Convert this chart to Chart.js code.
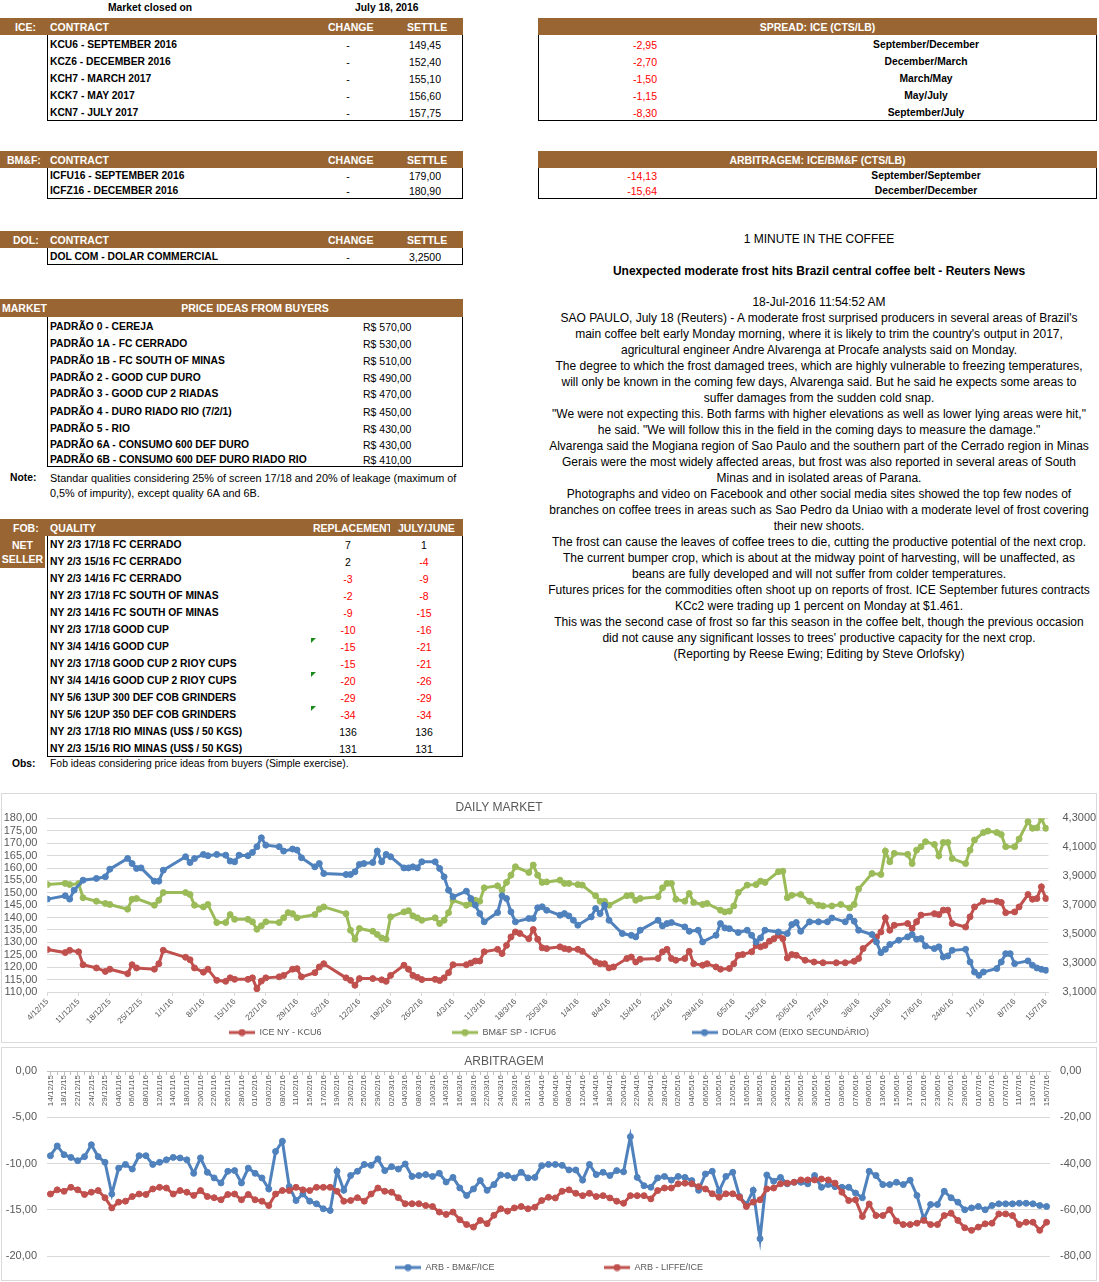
<!DOCTYPE html>
<html>
<head>
<meta charset="utf-8">
<title>Market closed on July 18, 2016</title>
<script src="https://cdn.jsdelivr.net/npm/chart.js@4.4.1/dist/chart.umd.min.js"></script>
<style>
html, body { margin: 0; padding: 0; background: #fff; overflow: hidden; }
#page { position: relative; width: 1099px; height: 1282px; font-family: "Liberation Sans", Arial, sans-serif; color: #000; }
.t { position: absolute; white-space: nowrap; line-height: 16px; font-size: 10.3px; font-weight: bold; }
.n { font-weight: normal; font-size: 10.5px; }
.h { color: #fff; font-size: 10.5px; }
.r { color: #f00; }
.bar { position: absolute; background: #996633; }
.box { position: absolute; border: 1px solid #000; border-top: 0; box-sizing: border-box; }
.tri { position: absolute; border-top: 5px solid #1a8a1a; border-right: 5px solid transparent; }
.frame { position: absolute; border: 1px solid #d9d9d9; box-sizing: border-box; }
#news { position: absolute; left: 539px; width: 560px; top: 231px; text-align: center; font-size: 12px; line-height: 16px; }
.chart { position: absolute; left: 0; }
</style>
</head>
<body>
<div id="page">
  <div class="frame" style="left:1px;top:793px;width:1096px;height:250px"></div>
  <div class="frame" style="left:1px;top:1047px;width:1096px;height:234px"></div>
  <div id="news">
    <div>1 MINUTE IN THE COFFEE</div>
    <div style="margin-top:16px;font-weight:bold">Unexpected moderate frost hits Brazil central coffee belt - Reuters News</div>
    <div style="margin-top:15px">18-Jul-2016 11:54:52 AM</div>
    <div>SAO PAULO, July 18 (Reuters) - A moderate frost surprised producers in several areas of Brazil's<br>
main coffee belt early Monday morning, where it is likely to trim the country's output in 2017,<br>
agricultural engineer Andre Alvarenga at Procafe analysts said on Monday.<br>
The degree to which the frost damaged trees, which are highly vulnerable to freezing temperatures,<br>
will only be known in the coming few days, Alvarenga said. But he said he expects some areas to<br>
suffer damages from the sudden cold snap.<br>
"We were not expecting this. Both farms with higher elevations as well as lower lying areas were hit,"<br>
he said. "We will follow this in the field in the coming days to measure the damage."<br>
Alvarenga said the Mogiana region of Sao Paulo and the southern part of the Cerrado region in Minas<br>
Gerais were the most widely affected areas, but frost was also reported in several areas of South<br>
Minas and in isolated areas of Parana.<br>
Photographs and video on Facebook and other social media sites showed the top few nodes of<br>
branches on coffee trees in areas such as Sao Pedro da Uniao with a moderate level of frost covering<br>
their new shoots.<br>
The frost can cause the leaves of coffee trees to die, cutting the productive potential of the next crop.<br>
The current bumper crop, which is about at the midway point of harvesting, will be unaffected, as<br>
beans are fully developed and will not suffer from colder temperatures.<br>
Futures prices for the commodities often shoot up on reports of frost. ICE September futures contracts<br>
KCc2 were trading up 1 percent on Monday at $1.461.<br>
This was the second case of frost so far this season in the coffee belt, though the previous occasion<br>
did not cause any significant losses to trees' productive capacity for the next crop.<br>
(Reporting by Reese Ewing; Editing by Steve Orlofsky)</div>
  </div>
  <div class="chart" style="top:794px"><canvas id="daily" width="1098" height="253"></canvas></div>
  <div class="chart" style="top:1048px"><canvas id="arb" width="1098" height="234"></canvas></div>
</div>

<script>
"use strict";

// Daily market: [days after 4/12/15, value]
const iceNy = [[0,127.1],[4,125.9],[5,126.8],[7,126.2],[8,121.0],[11,119.7],[13,118.3],[14,119.2],[18,117.4],[19,121.0],[20,119.7],[24,119.2],[25,121.4],[26,126.8],[31,124.0],[32,123.0],[33,119.7],[35,118.0],[36,119.2],[38,114.7],[40,114.3],[41,115.7],[42,115.1],[45,115.1],[46,115.7],[47,111.3],[48,114.4],[49,115.7],[52,116.1],[53,116.7],[55,119.2],[56,119.4],[57,116.1],[60,117.8],[61,120.1],[62,121.4],[67,115.7],[68,114.7],[69,112.7],[70,115.4],[73,115.4],[75,114.9],[76,114.3],[77,116.7],[80,120.8],[81,119.2],[82,116.7],[83,115.9],[84,115.0],[87,115.1],[88,114.6],[89,115.7],[90,117.8],[91,121.0],[94,121.0],[95,121.7],[96,122.5],[97,122.5],[98,126.2],[101,127.2],[102,125.5],[103,128.8],[104,132.2],[105,134.2],[106,133.6],[108,131.5],[109,135.2],[110,131.3],[111,127.8],[112,127.5],[115,128.2],[116,127.5],[117,127.2],[119,127.2],[120,126.4],[123,122.1],[124,121.4],[125,121.4],[126,119.7],[127,120.1],[130,123.5],[131,124.1],[132,122.1],[133,123.2],[137,123.5],[138,126.2],[139,127.2],[140,123.5],[141,122.8],[143,123.5],[144,126.4],[145,121.4],[147,120.8],[148,121.4],[150,120.1],[151,119.2],[153,119.5],[154,121.4],[155,124.8],[156,125.1],[158,126.2],[159,128.8],[160,128.2],[161,128.8],[162,130.5],[163,131.5],[164,132.9],[165,131.5],[166,123.7],[167,125.1],[168,124.8],[170,122.8],[172,122.1],[174,121.8],[177,121.8],[179,121.8],[181,122.4],[182,123.5],[183,127.5],[186,132.2],[187,134.2],[188,139.9],[189,134.9],[190,136.9],[193,137.6],[194,135.6],[195,138.3],[196,141.0],[199,141.6],[200,141.2],[201,143.0],[202,143.0],[203,137.6],[206,136.2],[207,140.3],[208,144.3],[210,146.6],[213,146.6],[214,146.1],[215,142.0],[217,142.3],[218,144.3],[220,149.3],[221,147.4],[222,147.7],[223,152.4],[224,147.7]];

const bmfSp = [[0,153.3],[4,153.8],[5,153.3],[7,153.7],[8,148.0],[11,146.6],[13,145.7],[14,145.3],[18,143.4],[19,147.4],[20,147.7],[24,145.0],[25,147.0],[26,150.1],[31,150.1],[32,149.3],[33,145.0],[35,144.3],[36,145.3],[38,138.0],[40,138.0],[41,141.2],[42,139.3],[45,139.3],[46,138.3],[47,135.3],[48,136.7],[49,138.3],[52,138.0],[53,139.9],[54,142.0],[55,141.6],[56,139.9],[60,141.2],[61,143.4],[62,144.3],[67,141.6],[68,134.9],[69,131.3],[70,135.6],[73,134.5],[74,133.2],[75,131.8],[76,131.3],[77,140.3],[80,142.3],[81,142.8],[82,140.7],[83,139.9],[84,138.9],[87,139.9],[88,137.6],[89,138.9],[90,142.0],[91,147.0],[94,145.0],[95,145.7],[96,147.0],[97,146.6],[98,152.0],[101,152.8],[102,151.1],[103,154.2],[104,157.1],[105,160.5],[108,158.2],[109,161.2],[110,157.1],[111,154.2],[112,154.4],[115,155.1],[116,153.8],[117,153.8],[119,153.3],[120,153.1],[123,148.8],[124,146.6],[125,146.6],[126,145.0],[130,148.8],[131,149.0],[132,147.0],[133,147.7],[137,148.4],[138,152.0],[139,153.8],[140,153.8],[141,147.4],[143,146.6],[144,149.7],[145,146.1],[147,145.3],[148,145.7],[151,143.0],[152,142.3],[153,142.6],[154,144.7],[155,150.1],[157,153.1],[159,153.3],[160,154.7],[161,154.2],[164,158.5],[165,158.7],[166,148.0],[167,149.0],[169,149.3],[171,146.6],[173,145.0],[174,144.7],[176,144.7],[178,145.3],[180,143.9],[181,145.3],[182,151.5],[185,157.8],[187,157.4],[188,166.8],[189,162.5],[190,165.9],[193,165.5],[194,161.8],[195,167.2],[196,168.6],[197,170.6],[199,169.5],[200,164.9],[201,170.3],[202,170.3],[203,163.8],[206,161.8],[207,167.2],[208,171.3],[210,174.3],[211,174.9],[213,174.3],[214,173.5],[215,168.6],[217,168.6],[218,171.7],[220,178.7],[221,176.0],[222,176.2],[223,180.0],[224,176.0]];

const dolarCom = [[0,3.742],[4,3.765],[5,3.742],[6,3.804],[8,3.873],[11,3.885],[13,3.896],[14,3.949],[18,4.023],[19,3.988],[20,3.954],[21,3.958],[24,3.866],[25,3.866],[26,3.942],[31,4.035],[32,3.995],[33,4.023],[35,4.051],[36,4.042],[38,4.051],[40,4.046],[41,4.005],[42,4.000],[43,4.046],[45,4.042],[46,4.065],[47,4.104],[48,4.166],[49,4.115],[52,4.104],[53,4.074],[55,4.088],[56,4.081],[57,4.028],[60,3.965],[61,3.988],[62,3.919],[67,3.912],[68,3.912],[69,3.931],[70,3.982],[71,3.988],[73,3.995],[74,4.074],[75,4.000],[76,4.051],[77,4.035],[80,3.958],[81,3.958],[82,3.965],[83,3.958],[84,4.000],[87,4.000],[88,3.954],[89,3.896],[90,3.804],[91,3.758],[94,3.797],[95,3.746],[96,3.700],[97,3.642],[98,3.585],[101,3.649],[102,3.765],[103,3.746],[104,3.654],[105,3.585],[108,3.608],[109,3.608],[110,3.682],[111,3.689],[112,3.665],[115,3.631],[116,3.642],[117,3.626],[118,3.596],[119,3.562],[122,3.619],[123,3.677],[124,3.642],[125,3.700],[126,3.596],[129,3.504],[131,3.492],[132,3.481],[133,3.527],[137,3.596],[138,3.557],[139,3.573],[140,3.580],[143,3.550],[144,3.520],[146,3.527],[147,3.446],[150,3.492],[151,3.573],[152,3.543],[153,3.538],[155,3.511],[157,3.527],[158,3.492],[159,3.446],[160,3.474],[161,3.527],[164,3.515],[166,3.504],[167,3.566],[168,3.580],[169,3.520],[171,3.585],[173,3.585],[175,3.585],[176,3.612],[179,3.585],[180,3.619],[181,3.589],[182,3.527],[185,3.497],[186,3.446],[187,3.372],[188,3.395],[189,3.428],[191,3.458],[193,3.481],[194,3.497],[195,3.465],[196,3.469],[197,3.418],[199,3.400],[200,3.412],[201,3.342],[202,3.349],[203,3.388],[206,3.395],[207,3.308],[208,3.238],[209,3.215],[210,3.238],[213,3.262],[214,3.308],[215,3.365],[216,3.365],[217,3.296],[220,3.315],[221,3.285],[222,3.266],[223,3.257],[224,3.250]];

// Arbitragem: trading days and spreads
const arbDates = ["14/12/15","16/12/15","18/12/15","21/12/15","22/12/15","23/12/15","24/12/15","28/12/15","29/12/15","30/12/15",
  "04/01/16","05/01/16","06/01/16","07/01/16","08/01/16","11/01/16","12/01/16","13/01/16","14/01/16","15/01/16",
  "18/01/16","19/01/16","20/01/16","21/01/16","22/01/16","25/01/16","26/01/16","27/01/16","28/01/16","29/01/16",
  "01/02/16","02/02/16","03/02/16","04/02/16","08/02/16","10/02/16","11/02/16","12/02/16","15/02/16","16/02/16",
  "17/02/16","18/02/16","19/02/16","22/02/16","23/02/16","24/02/16","25/02/16","26/02/16","29/02/16","01/03/16",
  "02/03/16","03/03/16","04/03/16","07/03/16","08/03/16","09/03/16","10/03/16","11/03/16","14/03/16","15/03/16",
  "16/03/16","17/03/16","18/03/16","21/03/16","22/03/16","23/03/16","24/03/16","28/03/16","29/03/16","30/03/16",
  "31/03/16","01/04/16","04/04/16","05/04/16","06/04/16","07/04/16","08/04/16","11/04/16","12/04/16","13/04/16",
  "14/04/16","15/04/16","18/04/16","19/04/16","20/04/16","21/04/16","22/04/16","25/04/16","26/04/16","27/04/16",
  "28/04/16","29/04/16","02/05/16","03/05/16","04/05/16","05/05/16","06/05/16","09/05/16","10/05/16","11/05/16",
  "12/05/16","13/05/16","16/05/16","17/05/16","18/05/16","19/05/16","20/05/16","23/05/16","24/05/16","25/05/16",
  "26/05/16","27/05/16","30/05/16","31/05/16","01/06/16","02/06/16","03/06/16","06/06/16","07/06/16","08/06/16",
  "09/06/16","10/06/16","13/06/16","14/06/16","15/06/16","16/06/16","17/06/16","20/06/16","21/06/16","22/06/16",
  "23/06/16","24/06/16","27/06/16","28/06/16","29/06/16","30/06/16","01/07/16","04/07/16","05/07/16","06/07/16",
  "07/07/16","08/07/16","11/07/16","12/07/16","13/07/16","14/07/16","15/07/16"];

const arbBmfIce = [-9.16,-8.1,-9.05,-9.34,-9.7,-9.26,-7.97,-9.26,-9.87,-13.3,
  -10.5,-10.1,-10.6,-9.16,-9.16,-10.1,-9.87,-9.6,-9.34,-9.4,
  -9.6,-11.06,-9.4,-10.95,-11.56,-12.1,-10.84,-10.77,-12.1,-10.5,
  -11.06,-11.56,-12.75,-8.7,-7.6,-12.5,-14.0,-13.3,-14.07,-14.36,
  -14.9,-15.08,-10.84,-12.9,-11.3,-10.84,-10.1,-10.2,-9.5,-10.77,
  -10.34,-10.6,-10.05,-11.4,-11.3,-11.2,-11.4,-11.06,-12.0,-11.5,
  -12.64,-13.46,-12.75,-11.85,-12.9,-12.28,-11.24,-11.3,-11.56,-10.95,
  -11.56,-11.5,-10.23,-10.1,-10.1,-10.2,-10.7,-10.7,-11.8,-10.1,
  -11.2,-10.95,-11.3,-10.77,-10.9,-7.1,-11.5,-12.4,-12.57,-11.56,
  -11.4,-11.8,-11.4,-11.5,-11.85,-12.9,-11.13,-10.84,-13.0,-11.4,
  -10.95,-13.57,-14.43,-12.9,-18.13,-11.24,-11.92,-11.5,-12.2,-12.03,
  -12.03,-12.2,-11.3,-12.57,-12.28,-12.5,-12.57,-12.57,-13.2,-13.7,
  -10.84,-11.3,-12.28,-12.28,-12.03,-12.28,-11.8,-13.46,-15.98,-14.43,
  -14.43,-13.0,-13.7,-14.18,-15.0,-14.8,-14.65,-15.0,-14.54,-14.36,
  -14.36,-14.36,-14.3,-14.3,-14.36,-14.54,-14.65];

const arbLiffeIce = [-53.2,-51.4,-52.0,-50.3,-51.4,-53.4,-52.4,-51.7,-54.8,-59.2,
  -56.7,-56.3,-54.3,-53.2,-53.4,-51.0,-50.3,-50.6,-53.2,-51.7,
  -52.4,-53.8,-51.7,-54.3,-54.8,-55.7,-53.4,-53.2,-55.7,-53.4,
  -55.7,-56.3,-58.2,-53.2,-51.7,-51.7,-50.3,-51.4,-51.7,-50.3,
  -50.3,-50.3,-52.0,-56.3,-56.0,-54.8,-56.3,-53.2,-50.6,-52.0,
  -52.4,-54.8,-57.4,-57.4,-57.4,-58.2,-58.6,-61.0,-62.0,-61.0,
  -64.3,-66.4,-67.5,-64.6,-66.0,-62.4,-59.6,-60.6,-59.2,-58.6,
  -59.6,-58.9,-56.0,-54.6,-54.9,-52.0,-51.4,-52.9,-53.9,-52.9,
  -54.3,-53.9,-54.9,-56.3,-57.2,-53.9,-53.9,-53.9,-55.3,-51.7,
  -50.6,-50.6,-48.8,-48.5,-48.8,-50.0,-51.0,-53.1,-54.6,-53.1,
  -53.1,-54.6,-58.6,-56.7,-55.7,-51.0,-50.6,-48.8,-48.5,-48.1,
  -47.1,-47.1,-47.1,-46.7,-47.1,-48.5,-52.4,-56.0,-55.7,-62.9,
  -57.5,-62.5,-62.5,-60.0,-64.9,-66.4,-66.4,-65.8,-64.6,-66.4,
  -66.4,-62.5,-61.5,-64.6,-67.8,-68.9,-67.5,-66.1,-65.8,-61.8,
  -61.8,-62.5,-66.4,-65.4,-65.4,-68.9,-65.4];

const RED = "#C0504D";
const GREEN = "#9BBB59";
const BLUE = "#4F81BD";
const GRID = "#d9d9d9";
const FONT = '"Liberation Sans", Arial, sans-serif';

// ---- tables ----
const page = document.getElementById("page");

function put(text, x, cy, cls, w, align) {
    const d = document.createElement("div");
    d.className = "t " + (cls || "");
    d.textContent = text;
    d.style.left = x + "px";
    d.style.top = (cy - 8) + "px";
    if (w) {
        d.style.width = w + "px";
        d.style.textAlign = align || "center";
        d.style.overflow = "hidden";
    }
    page.appendChild(d);
    return d;
}

function rect(cls, x, y, w, h) {
    const d = document.createElement("div");
    d.className = cls;
    d.style.left = x + "px";
    d.style.top = y + "px";
    if (w) d.style.width = w + "px";
    if (h) d.style.height = h + "px";
    page.appendChild(d);
}

function contractTable(label, labelX, top, rows, rowY) {
    rect("bar", 0, top, 463, 17);
    rect("box", 47, top + 17, 416, rowY[rowY.length - 1] - top - 17 + 8);
    const cy = top + 8.5;
    put(label, labelX, cy, "h");
    put("CONTRACT", 50, cy, "h");
    put("CHANGE", 328, cy, "h");
    put("SETTLE", 407, cy, "h");
    rows.forEach((r, i) => {
        put(r[0], 50, rowY[i]);
        put("-", 328, rowY[i], "n", 40);
        put(r[1], 381, rowY[i], "n", 60, "right");
    });
}

put("Market closed on", 108, 8);
put("July 18, 2016", 355, 8);

contractTable("ICE:", 15, 18, [
    ["KCU6 - SEPTEMBER 2016", "149,45"],
    ["KCZ6 - DECEMBER 2016", "152,40"],
    ["KCH7 - MARCH 2017", "155,10"],
    ["KCK7 - MAY 2017", "156,60"],
    ["KCN7 - JULY 2017", "157,75"]
], [44.5, 62, 79, 96, 113]);

contractTable("BM&F:", 7, 151, [
    ["ICFU16 - SEPTEMBER 2016", "179,00"],
    ["ICFZ16 - DECEMBER 2016", "180,90"]
], [175.7, 191]);

contractTable("DOL:", 13, 231, [
    ["DOL COM - DOLAR COMMERCIAL", "3,2500"]
], [257]);

// price ideas
rect("bar", 0, 299, 463, 18);
rect("box", 47, 317, 416, 150);
put("MARKET", 2, 308, "h");
put("PRICE IDEAS FROM BUYERS", 47, 308, "h", 416);
[
    ["PADRÃO 0 - CEREJA", "R$ 570,00"],
    ["PADRÃO 1A - FC CERRADO", "R$ 530,00"],
    ["PADRÃO 1B - FC SOUTH OF MINAS", "R$ 510,00"],
    ["PADRÃO 2 - GOOD CUP DURO", "R$ 490,00"],
    ["PADRÃO 3 - GOOD CUP 2 RIADAS", "R$ 470,00"],
    ["PADRÃO 4 - DURO RIADO RIO (7/2/1)", "R$ 450,00"],
    ["PADRÃO 5 - RIO", "R$ 430,00"],
    ["PADRÃO 6A - CONSUMO 600 DEF DURO", "R$ 430,00"],
    ["PADRÃO 6B - CONSUMO 600 DEF DURO RIADO RIO", "R$ 410,00"]
].forEach((r, i) => {
    const cy = [327, 343.5, 361, 377.5, 394, 411.5, 428.5, 445, 460][i];
    put(r[0], 50, cy);
    put(r[1], 363, cy, "n");
});
put("Note:", 10, 478);
put("Standar qualities considering 25% of screen 17/18 and 20% of leakage (maximum of", 50, 478, "n").style.fontSize = "10.85px";
put("0,5% of impurity), except quality 6A and 6B.", 50, 493, "n").style.fontSize = "10.85px";

// FOB
rect("bar", 0, 519, 463, 17);
rect("bar", 0, 536, 45, 32);
rect("box", 47, 536, 416, 221);
put("FOB:", 13, 527.5, "h");
put("QUALITY", 50, 527.5, "h");
put("REPLACEMENT", 313, 527.5, "h", 77, "left");
put("JULY/JUNE", 398, 527.5, "h");
put("NET", 0, 545, "h", 45);
put("SELLER", 0, 559, "h", 45);
[
    ["NY 2/3 17/18 FC CERRADO", 7, 1],
    ["NY 2/3 15/16 FC CERRADO", 2, -4],
    ["NY 2/3 14/16 FC CERRADO", -3, -9],
    ["NY 2/3 17/18 FC SOUTH OF MINAS", -2, -8],
    ["NY 2/3 14/16 FC SOUTH OF MINAS", -9, -15],
    ["NY 2/3 17/18 GOOD CUP", -10, -16],
    ["NY 3/4 14/16 GOOD CUP", -15, -21],
    ["NY 2/3 17/18 GOOD CUP 2 RIOY CUPS", -15, -21],
    ["NY 3/4 14/16 GOOD CUP 2 RIOY CUPS", -20, -26],
    ["NY 5/6 13UP 300 DEF COB GRINDERS", -29, -29],
    ["NY 5/6 12UP 350 DEF COB GRINDERS", -34, -34],
    ["NY 2/3 17/18 RIO MINAS (US$ / 50 KGS)", 136, 136],
    ["NY 2/3 15/16 RIO MINAS (US$ / 50 KGS)", 131, 131]
].forEach((r, i) => {
    const cy = 545 + i * 17.03;
    put(r[0], 50, cy);
    put(String(r[1]), 323, cy, "n" + (r[1] < 0 ? " r" : ""), 50);
    put(String(r[2]), 399, cy, "n" + (r[2] < 0 ? " r" : ""), 50);
});
rect("tri", 311, 638);
rect("tri", 311, 672);
rect("tri", 311, 706);
put("Obs:", 12, 764);
put("Fob ideas considering price ideas from buyers (Simple exercise).", 50, 764, "n").style.fontSize = "10.4px";

// spreads
function spreadTable(title, top, rows, rowY) {
    rect("bar", 538, top, 559, 17);
    rect("box", 538, top + 17, 559, rowY[rowY.length - 1] - top - 17 + 8);
    put(title, 538, top + 8.5, "h", 559);
    rows.forEach((r, i) => {
        put(r[0], 597, rowY[i], "n r", 60, "right");
        put(r[1], 816, rowY[i], "", 220);
    });
}
spreadTable("SPREAD: ICE (CTS/LB)", 18, [
    ["-2,95", "September/December"],
    ["-2,70", "December/March"],
    ["-1,50", "March/May"],
    ["-1,15", "May/July"],
    ["-8,30", "September/July"]
], [44.5, 62, 79, 96, 113]);
spreadTable("ARBITRAGEM: ICE/BM&F (CTS/LB)", 151, [
    ["-14,13", "September/September"],
    ["-15,64", "December/December"]
], [176, 191]);

// ---- charts ----
Chart.defaults.font.family = FONT;
Chart.defaults.color = "#595959";
Chart.defaults.animation = false;

const chartTitle = {
    id: "chartTitle",
    afterDraw(chart, args, opts) {
        const ctx = chart.ctx;
        ctx.save();
        ctx.font = "12px " + FONT;
        ctx.fillStyle = "#595959";
        ctx.textAlign = "center";
        ctx.textBaseline = "middle";
        ctx.fillText(opts.text, opts.x, opts.y);
        ctx.restore();
    }
};

function legendMark(color) {
    const c = document.createElement("canvas");
    c.width = 26;
    c.height = 8;
    const g = c.getContext("2d");
    g.strokeStyle = color;
    g.lineWidth = 3;
    g.beginPath();
    g.moveTo(0, 4);
    g.lineTo(26, 4);
    g.stroke();
    g.fillStyle = color;
    g.beginPath();
    g.arc(13, 4, 3.5, 0, Math.PI * 2);
    g.fill();
    return c;
}

// pad legend texts so the items spread out like the original
function legendLabels(textWidths) {
    return chart => {
        const items = Chart.defaults.plugins.legend.labels.generateLabels(chart);
        items.sort((a, b) => a.datasetIndex - b.datasetIndex);
        const ctx = chart.ctx;
        ctx.save();
        ctx.font = "9px " + FONT;
        items.forEach((item, i) => {
            item.pointStyle = legendMark(chart.data.datasets[item.datasetIndex].borderColor);
            const target = textWidths[i];
            if (target) {
                while (ctx.measureText(item.text).width < target) item.text += "\u00a0";
            }
        });
        ctx.restore();
        return items;
    };
}

const comma = (v, d) => v.toFixed(d).replace(".", ",");

function dayLabel(day) {
    const t = new Date(2015, 11, 4 + day);
    return t.getDate() + "/" + (t.getMonth() + 1) + "/" + String(t.getFullYear()).slice(2);
}

const lineStyle = color => ({
    borderColor: color,
    backgroundColor: color,
    pointBackgroundColor: color,
    pointBorderColor: color,
    borderWidth: 3,
    pointRadius: 3,
    pointBorderWidth: 1,
    tension: 0
});

const toXY = rows => rows.map(([d, v]) => ({ x: d, y: v }));

new Chart(document.getElementById("daily"), {
    type: "line",
    data: {
        datasets: [
            { label: "ICE NY - KCU6", data: toXY(iceNy), yAxisID: "y", order: 3, ...lineStyle(RED) },
            { label: "BM&F SP - ICFU6", data: toXY(bmfSp), yAxisID: "y", order: 2, ...lineStyle(GREEN) },
            { label: "DOLAR COM (EIXO SECUNDÁRIO)", data: toXY(dolarCom), yAxisID: "y1", order: 1, ...lineStyle(BLUE) }
        ]
    },
    plugins: [chartTitle],
    options: {
        responsive: false,
        layout: { padding: { top: 24.4, left: 0, right: 0, bottom: 0 } },
        scales: {
            x: {
                type: "linear",
                min: 0,
                max: 224.6,
                afterFit: s => { s.height = 33; },
                grid: { drawOnChartArea: false, drawTicks: true, tickLength: 4, color: GRID },
                border: { display: true, color: GRID },
                ticks: {
                    stepSize: 7,
                    includeBounds: false,
                    autoSkip: false,
                    minRotation: 45,
                    maxRotation: 45,
                    padding: 1,
                    font: { size: 8 },
                    callback: v => dayLabel(v)
                }
            },
            y: {
                position: "left",
                min: 110,
                max: 180,
                afterFit: s => { s.width = 47.4; },
                grid: { color: GRID, drawTicks: false },
                border: { display: false },
                ticks: { stepSize: 5, autoSkip: false, padding: 10, font: { size: 11 }, callback: v => comma(v, 2) }
            },
            y1: {
                position: "right",
                min: 3.1,
                max: 4.3,
                afterFit: s => { s.width = 49.5; },
                grid: { display: false, drawTicks: false },
                border: { display: false },
                ticks: { stepSize: 0.2, autoSkip: false, padding: 14, font: { size: 11 }, callback: v => comma(v, 4) }
            }
        },
        plugins: {
            chartTitle: { text: "DAILY MARKET", x: 499, y: 14 },
            title: { display: false },
            tooltip: { enabled: false },
            legend: {
                position: "bottom",
                labels: {
                    usePointStyle: true,
                    pointStyleWidth: 26,
                    padding: 3,
                    font: { size: 9 },
                    color: "#595959",
                    generateLabels: legendLabels([189.5, 204.5])
                }
            }
        }
    }
});

new Chart(document.getElementById("arb"), {
    type: "line",
    data: {
        labels: arbDates,
        datasets: [
            { label: "ARB - BM&F/ICE", data: arbBmfIce, yAxisID: "y", order: 2, ...lineStyle(BLUE) },
            { label: "ARB - LIFFE/ICE", data: arbLiffeIce, yAxisID: "y1", order: 1, ...lineStyle(RED) }
        ]
    },
    plugins: [chartTitle],
    options: {
        responsive: false,
        layout: { padding: { top: 23, left: 0, right: 0, bottom: 0 } },
        scales: {
            x: {
                type: "category",
                position: { y: 0 },
                offset: true,
                grid: { drawOnChartArea: false, drawTicks: true, tickLength: 3, color: "#bfbfbf" },
                border: { display: true, color: "#bfbfbf" },
                ticks: {
                    autoSkip: false,
                    minRotation: 90,
                    maxRotation: 90,
                    padding: 1,
                    font: { size: 8 },
                    callback: function (v, i) { return i % 2 ? "" : this.getLabelForValue(v); }
                }
            },
            y: {
                position: "left",
                min: -20,
                max: 0,
                afterFit: s => { s.width = 47; },
                grid: { color: GRID, drawTicks: false },
                border: { display: false },
                ticks: { stepSize: 5, autoSkip: false, padding: 10, font: { size: 11 }, callback: v => comma(v, 2) }
            },
            y1: {
                position: "right",
                min: -80,
                max: 0,
                afterFit: s => { s.width = 48; },
                grid: { display: false, drawTicks: false },
                border: { display: false },
                ticks: { stepSize: 20, autoSkip: false, padding: 10, font: { size: 11 }, callback: v => comma(v, 2) }
            }
        },
        plugins: {
            chartTitle: { text: "ARBITRAGEM", x: 504, y: 14 },
            title: { display: false },
            tooltip: { enabled: false },
            legend: {
                position: "bottom",
                labels: {
                    usePointStyle: true,
                    pointStyleWidth: 26,
                    padding: 7,
                    font: { size: 9 },
                    color: "#595959",
                    generateLabels: legendLabels([171.5])
                }
            }
        }
    }
});
</script>
</body>
</html>
